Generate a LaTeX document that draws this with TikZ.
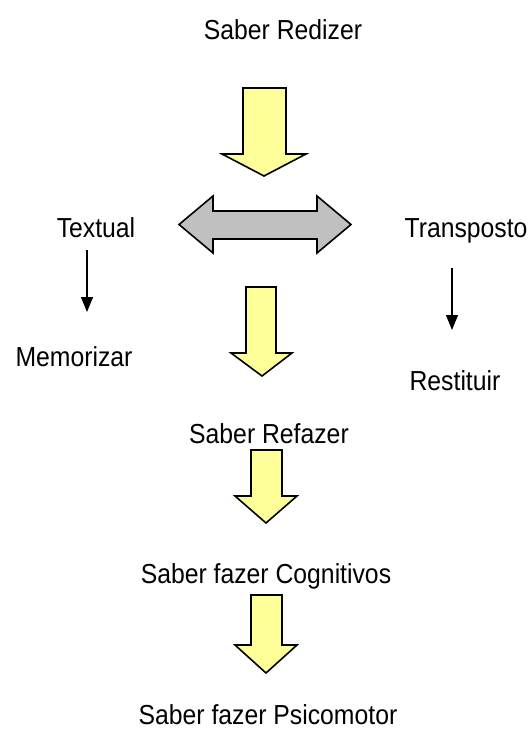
\documentclass[tikz,border=0pt]{standalone}
\usepackage{fontspec}
\setmainfont{Liberation Sans}[FakeStretch=0.9]
\usetikzlibrary{arrows.meta}
\definecolor{blockyellow}{HTML}{FFFF99}
\definecolor{blockgray}{HTML}{C0C0C0}
\tikzset{
  lbl/.style={anchor=base, inner sep=0pt, font=\fontsize{27.5}{30}\selectfont},
  yellowblock/.style={draw=black, line width=1.6pt, fill=blockyellow, line join=miter},
  grayblock/.style={draw=black, line width=1.6pt, fill=blockgray, line join=miter},
  thinarrow/.style={line width=1.2pt, -{Triangle[length=15pt,width=12pt]}},
}
\begin{document}
\begin{tikzpicture}[x=1pt,y=-1pt]
\useasboundingbox (0,0) rectangle (532,731);

% labels
\node[lbl] (redizer)  at (283,39)  {Saber Redizer};
\node[lbl] (textual)  at (96,237)  {Textual};
\node[lbl] (transp)   at (466,237) {Transposto};
\node[lbl] (memo)     at (74,366)  {Memorizar};
\node[lbl] (rest)     at (455,390) {Restituir};
\node[lbl] (refazer)  at (269,443) {Saber Refazer};
\node[lbl] (cogn)     at (266,583) {Saber fazer Cognitivos};
\node[lbl] (psico)    at (268,724) {Saber fazer Psicomotor};

% downward block arrows
\draw[yellowblock] (243,88) -- (286,88) -- (286,154) -- (306,154) -- (264,176)
  -- (222,154) -- (243,154) -- cycle;
\draw[yellowblock] (246,287) -- (276,287) -- (276,353) -- (292,353) -- (262,376)
  -- (231,353) -- (246,353) -- cycle;
\draw[yellowblock] (251,450) -- (282,450) -- (282,496) -- (297,496) -- (266,523)
  -- (235,496) -- (251,496) -- cycle;
\draw[yellowblock] (251,595) -- (282,595) -- (282,645) -- (297,645) -- (266,673)
  -- (235,645) -- (251,645) -- cycle;

% double-headed block arrow
\draw[grayblock] (179,224.5) -- (213,196) -- (213,211) -- (317,211) -- (317,196)
  -- (351,224.5) -- (317,253) -- (317,239) -- (213,239) -- (213,253) -- cycle;

% thin arrows
\coordinate (t1) at (87,250);
\coordinate (t2) at (87,312);
\coordinate (r1) at (452,268);
\coordinate (r2) at (452,330);
\draw[thinarrow] (t1) -- (t2);
\draw[thinarrow] (r1) -- (r2);
\end{tikzpicture}
\end{document}
